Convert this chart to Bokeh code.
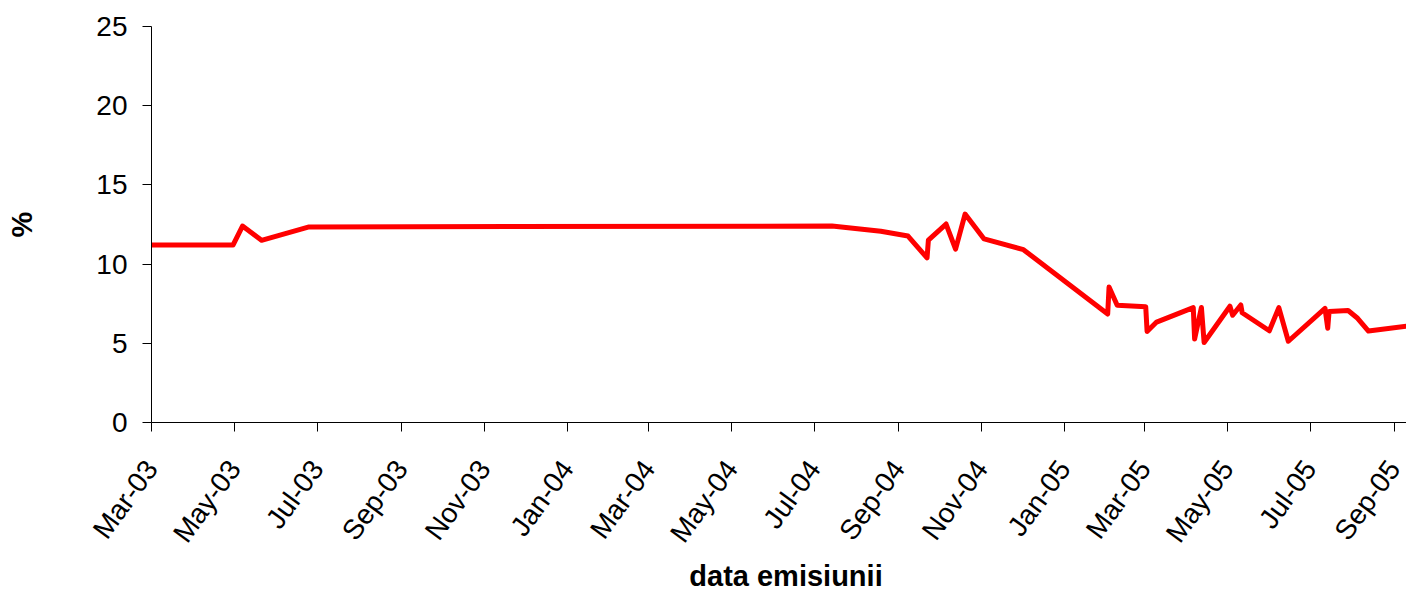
import pandas as pd
from math import radians
from bokeh.plotting import figure
from bokeh.layouts import column
from bokeh.models import FixedTicker, Range1d, DatetimeTickFormatter, Div
from bokeh.embed import file_html
from bokeh.resources import INLINE

# issue dates and yields (%)
issue_dates = [
    "2003-03-01", "2003-04-30", "2003-05-07", "2003-05-21", "2003-06-25",
    "2004-07-14", "2004-08-19", "2004-09-08", "2004-09-22", "2004-09-23",
    "2004-10-06", "2004-10-13", "2004-10-20", "2004-11-03", "2004-12-02",
    "2005-02-02", "2005-02-03", "2005-02-09", "2005-03-02", "2005-03-03",
    "2005-03-10", "2005-04-06", "2005-04-07", "2005-04-12", "2005-04-14",
    "2005-05-03", "2005-05-05", "2005-05-11", "2005-05-12", "2005-06-01",
    "2005-06-08", "2005-06-15", "2005-07-12", "2005-07-14", "2005-07-15",
    "2005-07-29", "2005-08-05", "2005-08-13", "2005-09-10",
]
yields = [
    11.2, 11.2, 12.4, 11.5, 12.35,
    12.4, 12.07, 11.77, 10.39, 11.52,
    12.53, 10.95, 13.16, 11.59, 10.91,
    6.85, 8.55, 7.4, 7.31, 5.75,
    6.34, 7.25, 5.27, 7.26, 5.05,
    7.34, 6.77, 7.42, 6.93, 5.79,
    7.25, 5.13, 7.2, 5.95, 7.0,
    7.07, 6.58, 5.77, 6.08,
]

tick_dates = [
    "2003-03-01", "2003-05-01", "2003-07-01", "2003-09-01", "2003-11-01",
    "2004-01-01", "2004-03-01", "2004-05-01", "2004-07-01", "2004-09-01",
    "2004-11-01", "2005-01-01", "2005-03-01", "2005-05-01", "2005-07-01",
    "2005-09-01",
]
tick_labels = [
    "Mar-03", "May-03", "Jul-03", "Sep-03", "Nov-03",
    "Jan-04", "Mar-04", "May-04", "Jul-04", "Sep-04",
    "Nov-04", "Jan-05", "Mar-05", "May-05", "Jul-05",
    "Sep-05",
]
y_ticks = [0, 5, 10, 15, 20, 25]

x = pd.to_datetime(issue_dates)
tick_ms = [int(pd.Timestamp(d).value // 10**6) for d in tick_dates]

FONT = "Liberation Sans"

p = figure(
    width=1406, height=560,
    x_axis_type="datetime",
    output_backend="svg", toolbar_location=None,
    x_range=Range1d(pd.Timestamp("2003-03-01"), pd.Timestamp("2005-09-10")),
    y_range=Range1d(0, 25),
    min_border_left=151, min_border_right=0, min_border_top=26, min_border_bottom=138,
)
p.line(x, yields, line_color="#FF0000", line_width=5, line_join="round")

p.outline_line_color = None
p.xgrid.visible = False
p.ygrid.visible = False

p.xaxis.ticker = FixedTicker(ticks=tick_ms)
p.xaxis.formatter = DatetimeTickFormatter(days="%b-%y", months="%b-%y", years="%b-%y")
p.xaxis.major_label_overrides = dict(zip(tick_ms, tick_labels))
p.xaxis.major_label_orientation = radians(54)
p.yaxis.ticker = FixedTicker(ticks=y_ticks)

p.yaxis.axis_label = "%"

for ax in (p.xaxis[0], p.yaxis[0]):
    ax.axis_line_color = "black"
    ax.axis_line_width = 1
    ax.major_tick_line_color = "black"
    ax.major_tick_out = 9
    ax.major_tick_in = 0
    ax.minor_tick_line_color = None
    ax.major_label_text_font = FONT
    ax.major_label_text_font_size = "28px"
    ax.major_label_text_color = "black"
    ax.axis_label_text_font = FONT
    ax.axis_label_text_font_size = "29px"
    ax.axis_label_text_font_style = "bold"
    ax.axis_label_text_color = "black"

p.yaxis.major_label_standoff = 15
p.yaxis.axis_label_standoff = 55
p.xaxis.major_label_standoff = 32

# x-axis title below the rotated tick labels
xtitle = Div(
    text=('<div style="width:1406px;box-sizing:border-box;padding-left:166px;'
          'text-align:center;font-family:\'Liberation Sans\';font-weight:bold;'
          'font-size:29px;line-height:32px;color:black;white-space:nowrap;">'
          'data emisiunii</div>'),
    width=1406, height=32, margin=0,
)

layout = column(p, xtitle, spacing=0, margin=0)
open("out.html", "w").write(file_html(layout, INLINE))
